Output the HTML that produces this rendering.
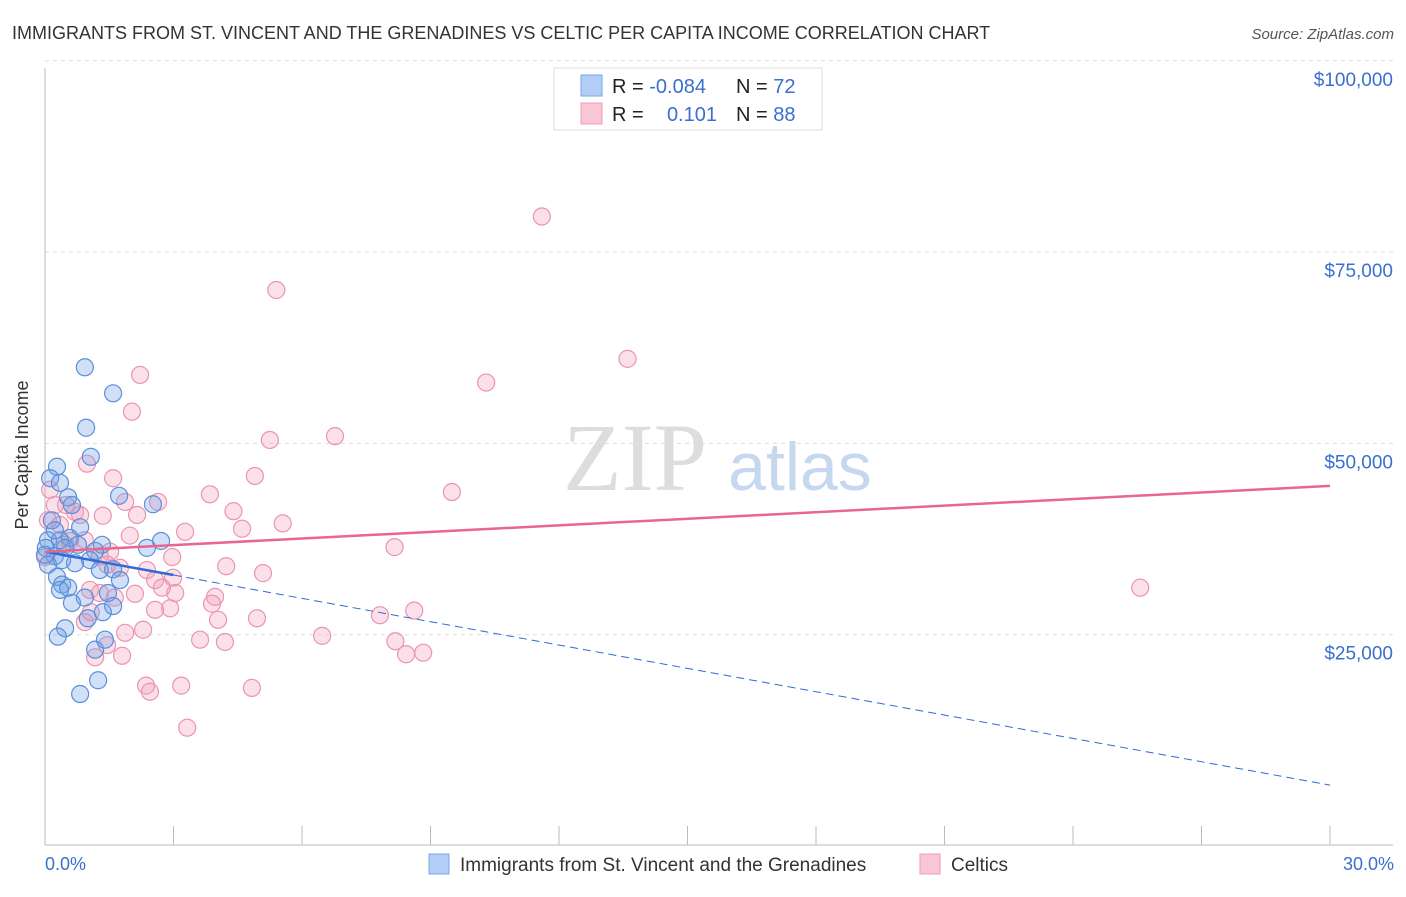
<!DOCTYPE html>
<html><head><meta charset="utf-8"><style>
body{margin:0;background:#fff;font-family:"Liberation Sans",sans-serif;}
</style></head><body>
<svg id="chart" width="1406" height="892" xmlns="http://www.w3.org/2000/svg">
<text x="12" y="39" font-size="18" fill="#333">IMMIGRANTS FROM ST. VINCENT AND THE GRENADINES VS CELTIC PER CAPITA INCOME CORRELATION CHART</text>
<text x="1394" y="39" font-size="15" fill="#555" font-style="italic" text-anchor="end">Source: ZipAtlas.com</text>
<g>
<text x="635" y="490" font-size="96" fill="#ddd" font-family="Liberation Serif,serif" text-anchor="middle">ZIP</text>
<text x="800" y="490" font-size="68" fill="#c5d8ef" text-anchor="middle">atlas</text>
</g>
<g id="grid"></g>
<g id="axes"></g>
<g id="pts"></g>
<g id="trend"></g>
<text x="28" y="455" font-size="18" fill="#333" text-anchor="middle" transform="rotate(-90 28 455)">Per Capita Income</text>
<text x="45" y="870" font-size="18" fill="#3a6fd0">0.0%</text>
<text x="1394" y="870" font-size="18" fill="#3a6fd0" text-anchor="end">30.0%</text>
<g>
<rect x="554" y="68" width="268" height="62" fill="#fff" stroke="#ddd"/>
<rect x="581" y="75" width="21" height="21" fill="#b3cef5" stroke="#7aa6e6"/>
<rect x="581" y="103" width="21" height="21" fill="#f9c6d5" stroke="#ee9bb6"/>
<text x="612" y="93" font-size="20" fill="#222">R = <tspan fill="#3a6fd0">-0.084</tspan></text>
<text x="736" y="93" font-size="20" fill="#222">N = <tspan fill="#3a6fd0">72</tspan></text>
<text x="612" y="121" font-size="20" fill="#222">R = </text>
<text x="717" y="121" font-size="20" fill="#3a6fd0" text-anchor="end">0.101</text>
<text x="736" y="121" font-size="20" fill="#222">N = <tspan fill="#3a6fd0">88</tspan></text>
</g>
<g>
<rect x="429" y="854" width="20" height="20" fill="#b3cef5" stroke="#7aa6e6"/>
<text x="460" y="871" font-size="19" fill="#333">Immigrants from St. Vincent and the Grenadines</text>
<rect x="920" y="854" width="20" height="20" fill="#f9c6d5" stroke="#ee9bb6"/>
<text x="951" y="871" font-size="19" fill="#333">Celtics</text>
</g>
</svg>
<script>
const yTicks=[25000,50000,75000,100000];
const yTickLabels=["$25,000","$50,000","$75,000","$100,000"];
const xTicks=[0,3,6,9,12,15,18,21,24,27,30];
const blueX=[0.93,1.59,0.96,1.07,0.28,0.12,0.35,1.73,0.54,2.52,0.63,0.16,0.82,0.58,0.07,0.35,1.33,2.71,2.38,0.02,0.47,1.17,0.23,1.05,0.7,0.07,1.28,1.59,0.28,1.75,0.4,0.54,0.35,1.47,0.93,0.63,1.59,1.35,1.0,0.47,0.3,1.17,1.4,1.24,0.82,0.23,0.0,0.4,0.77];
const blueY=[62.3,58.9,54.4,50.6,49.3,47.8,47.2,45.5,45.3,44.4,44.3,42.3,41.4,40.0,39.7,39.7,39.1,39.6,38.7,38.7,38.7,38.3,37.6,37.1,36.7,36.5,35.8,35.9,34.9,34.5,33.9,33.5,33.2,32.8,32.2,31.5,31.1,30.3,29.5,28.2,27.1,25.4,26.7,21.4,19.6,41.0,37.8,37.1,39.1];
const pinkX=[11.6,5.4,13.6,10.3,2.22,2.03,6.77,5.25,0.98,4.9,1.59,9.5,3.85,1.87,2.64,0.49,4.4,0.7,2.15,1.35,5.55,4.6,3.27,1.98,0.58,8.16,1.52,2.97,0.0,4.23,2.38,5.09,2.99,2.57,2.73,25.57,1.05,1.28,2.1,3.04,3.97,1.63,3.9,2.92,2.57,7.82,8.62,4.95,4.04,0.93,2.29,1.87,6.47,3.62,4.2,8.18,1.45,1.17,1.8,8.43,8.83,2.36,3.18,2.45,4.83,3.32,0.12,0.23,0.07,0.35,0.82,0.47,1.28,1.45,1.07,1.75,0.93];
const pinkY=[82.0,72.4,63.4,60.3,61.3,56.5,53.3,52.8,49.7,48.1,47.8,46.0,45.7,44.7,44.7,44.3,43.5,43.4,43.0,42.9,41.9,41.2,40.8,40.3,39.6,38.8,38.2,37.5,37.5,36.3,35.8,35.4,34.8,34.5,33.5,33.5,33.2,32.8,32.7,32.8,32.3,32.2,31.4,30.8,30.6,29.9,30.5,29.5,29.3,29.0,28.0,27.6,27.2,26.7,26.4,26.5,26.0,24.4,24.6,24.8,25.0,20.7,20.7,19.9,20.4,15.2,46.3,44.3,42.3,41.7,43.0,39.1,37.6,36.5,30.3,36.1,39.7];
const blueTrend=[38200,7700];
const pinkTrend=[38200,46800];
const NS="http://www.w3.org/2000/svg";
const X=v=>45+v/30*1285;
const Y=v=>844-v/25000*191.3;
function mk(t,a,p){const e=document.createElementNS(NS,t);for(const k in a)e.setAttribute(k,a[k]);document.getElementById(p).appendChild(e);return e;}
yTicks.forEach((t,i)=>{
 const l=mk('line',{x1:45,x2:1393,y1:Y(t)-18,y2:Y(t)-18,stroke:'#ddd','stroke-dasharray':'4 4'},'grid');
 
 
 const tx=mk('text',{x:1393,y:Y(t)+7,'font-size':19,fill:'#3a6fd0','text-anchor':'end'},'grid');
 tx.textContent=yTickLabels[i];
 
 
});
const ya=mk('line',{x1:45,x2:45,y1:68,y2:845,stroke:'#bbb'},'axes');


const xa=mk('line',{x1:45,x2:1393,y1:845,y2:845,stroke:'#bbb'},'axes');


xTicks.forEach(t=>{
 const l=mk('line',{x1:X(t),x2:X(t),y1:826,y2:845,stroke:'#bbb'},'axes');
 
 
});
pinkX.forEach((x,i)=>{
 const c=mk('circle',{cx:X(x),cy:Y(pinkY[i]*1000),r:8.5,fill:'rgba(244,160,188,0.32)',stroke:'#eb94b0','stroke-width':1.2},'pts');
 
 
});
blueX.forEach((x,i)=>{
 const c=mk('circle',{cx:X(x),cy:Y(blueY[i]*1000),r:8.5,fill:'rgba(110,160,230,0.32)',stroke:'#5b8fd9','stroke-width':1.2},'pts');
 
 
});
const bAt=x=>blueTrend[0]+(blueTrend[1]-blueTrend[0])*x/30;
const bs=mk('line',{x1:X(0),y1:Y(bAt(0)),x2:X(3),y2:Y(bAt(3)),stroke:'#2f6ad6','stroke-width':2.5},'trend');


const bd=mk('line',{x1:X(3),y1:Y(bAt(3)),x2:X(30),y2:Y(bAt(30)),stroke:'#2f6ad6','stroke-width':1,'stroke-dasharray':'8 5'},'trend');


const pt=mk('line',{x1:X(0),y1:Y(pinkTrend[0]),x2:X(30),y2:Y(pinkTrend[1]),stroke:'#e8668f','stroke-width':2.5},'trend');


</script>
</body></html>
